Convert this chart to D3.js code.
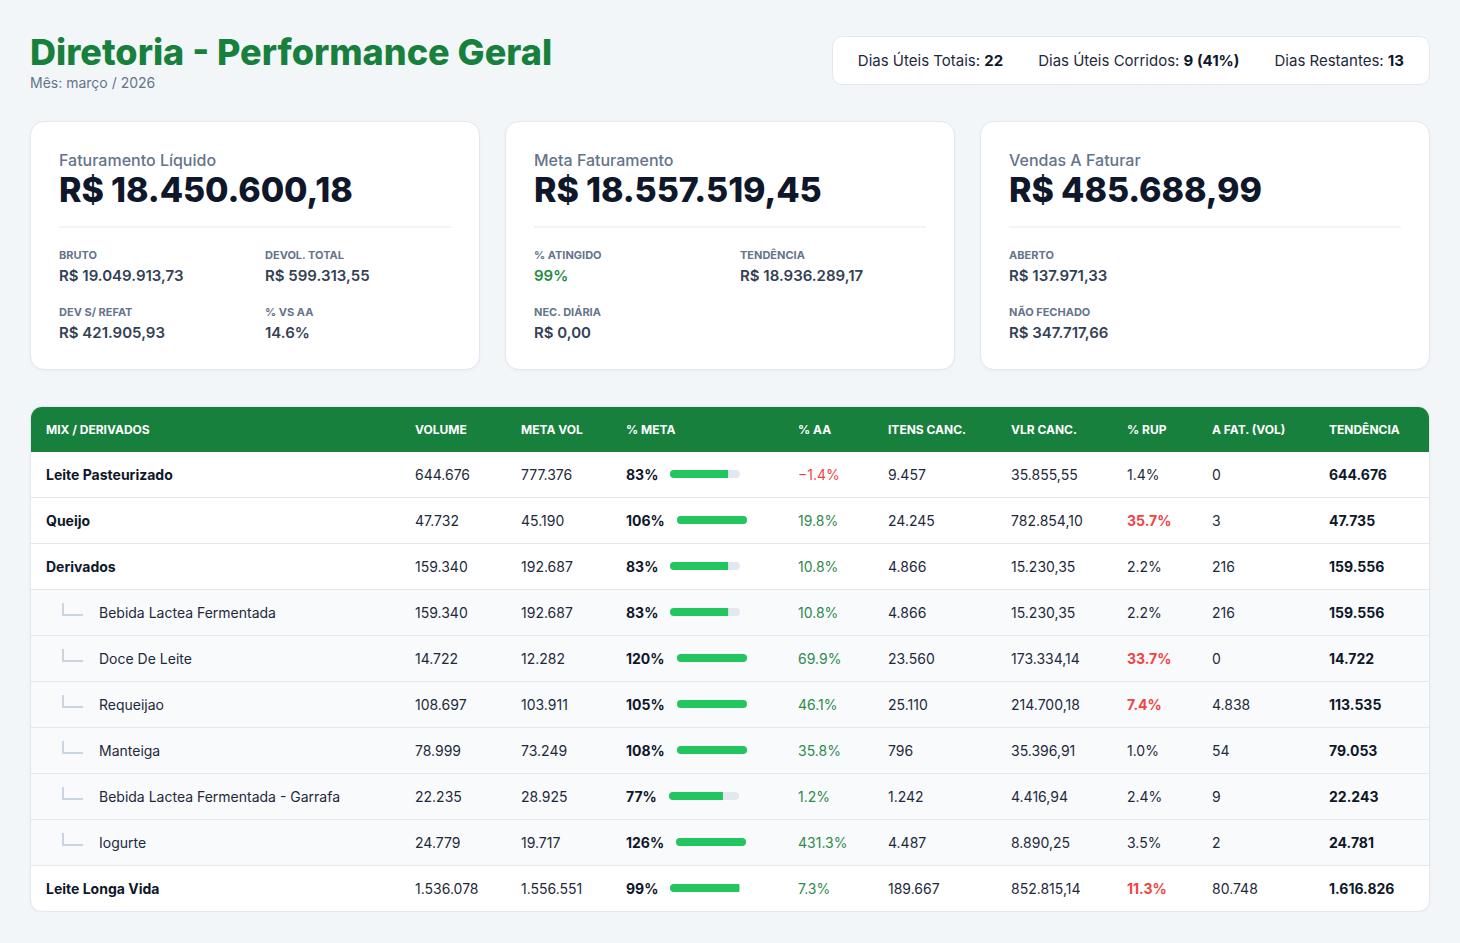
<!DOCTYPE html>
<html lang="pt-BR">
<head>
<meta charset="utf-8">
<title>Diretoria - Performance Geral</title>
<script src="https://cdn.jsdelivr.net/npm/d3@7"></script>
<style>
  body{margin:0;background:#f3f6f9;font-family:Inter,"Noto Sans",sans-serif;color:#1e293b;}
  #page{padding:31px 30px 0 30px;width:1400px;}
  .top{display:flex;justify-content:space-between;align-items:center;}
  .title{font-size:36px;font-weight:800;color:#17803d;line-height:43px;}
  .sub{font-size:14px;color:#64748b;margin-top:0px;line-height:17px;}
  .info{background:#fff;border:1px solid #e2e8f0;border-radius:10px;padding:14px 25px 14px 25px;display:flex;gap:35px;font-size:15px;color:#1e293b;height:19px;line-height:19px;transform:translateY(-1px);}
  .info b{font-weight:700;color:#0f172a;}
  .cards{display:flex;gap:25px;margin-top:30px;}
  .card{flex:1;background:#fff;border:1px solid #e2e8f0;border-radius:14px;padding:28px 28px 0 28px;height:219px;box-shadow:0 1px 3px rgba(15,23,42,0.04);}
  .card .lbl{font-size:16px;font-weight:500;color:#64748b;line-height:20px;}
  .card .big{font-size:34px;font-weight:800;color:#0f172a;line-height:40px;letter-spacing:-0.1px;}
  .card .div{height:2px;background:#f1f5f9;margin:16px 0 20px 0;}
  .card .grid{display:grid;grid-template-columns:1fr 1fr;column-gap:20px;row-gap:20px;}
  .card .k{font-size:11px;font-weight:700;color:#64748b;line-height:14px;text-transform:uppercase;}
  .card .v{font-size:15px;font-weight:600;color:#334155;line-height:19px;margin-top:4px;}
  .tbl{margin-top:36px;background:#fff;border:1px solid #e2e8f0;border-radius:12px;overflow:hidden;box-shadow:0 1px 3px rgba(15,23,42,0.04);}
  table{width:100%;border-collapse:collapse;table-layout:fixed;}
  th{background:#17803d;color:#fff;font-size:12px;font-weight:700;text-align:left;height:45px;padding:0 0 0 15px;box-sizing:border-box;white-space:nowrap;}
  td{font-size:14px;height:46px;padding:0 0 0 15px;box-sizing:border-box;border-top:1px solid #e2e8f0;white-space:nowrap;color:#1e293b;}
  tr.child td{background:#f8fafc;}
  tr:first-child td{border-top:none;height:45px;}
  .nm0{font-weight:700;color:#0f172a;}
  .conn{display:inline-block;width:19px;height:11px;border-left:2px solid #cbd5e1;border-bottom:2px solid #cbd5e1;margin:0 16px 0 16px;transform:translateY(-3px);}
  .nmcell{display:flex;align-items:center;}
  .meta{display:flex;align-items:center;gap:12px;font-weight:700;color:#0f172a;}
  .meta svg{display:block;}
  .bold{font-weight:700;color:#0f172a;}
</style>
</head>
<body>
<div id="page"></div>
<script>
// ---- dados do painel ----
const tituloPainel = "Diretoria - Performance Geral";
const mesRef = "Mês: março / 2026";
const diasUteisTotais = 22;
const diasUteisCorridos = 9;
const pctDiasCorridos = 41;
const diasRestantes = 13;

const kpiTitulos = ["Faturamento Líquido", "Meta Faturamento", "Vendas A Faturar"];
const kpiValores = [18450600.18, 18557519.45, 485688.99];
// linhas de detalhes de cada card: [rotulo, valor, tipo]
const kpiDetalhes = [
  [[["BRUTO", 19049913.73, "brl"], ["DEVOL. TOTAL", 599313.55, "brl"]],
   [["DEV S/ REFAT", 421905.93, "brl"], ["% VS AA", 14.6, "pct1"]]],
  [[["% ATINGIDO", 99, "pct0g"], ["TENDÊNCIA", 18936289.17, "brl"]],
   [["NEC. DIÁRIA", 0, "brl"]]],
  [[["ABERTO", 137971.33, "brl"]],
   [["NÃO FECHADO", 347717.66, "brl"]]]
];

// ---- tabela mix / derivados ----
const colunas = ["MIX / DERIVADOS", "VOLUME", "META VOL", "% META", "% AA", "ITENS CANC.", "VLR CANC.", "% RUP", "A FAT. (VOL)", "TENDÊNCIA"];
const larguras = [369, 106, 105, 172, 90, 123, 116, 85, 117, null];
const produtos = ["Leite Pasteurizado", "Queijo", "Derivados", "Bebida Lactea Fermentada", "Doce De Leite", "Requeijao", "Manteiga", "Bebida Lactea Fermentada - Garrafa", "Iogurte", "Leite Longa Vida"];
const nivel = [0, 0, 0, 1, 1, 1, 1, 1, 1, 0];
const volume = [644676, 47732, 159340, 159340, 14722, 108697, 78999, 22235, 24779, 1536078];
const metaVol = [777376, 45190, 192687, 192687, 12282, 103911, 73249, 28925, 19717, 1556551];
const pctMeta = [83, 106, 83, 83, 120, 105, 108, 77, 126, 99];
const pctAA = [-1.4, 19.8, 10.8, 10.8, 69.9, 46.1, 35.8, 1.2, 431.3, 7.3];
const itensCanc = [9457, 24245, 4866, 4866, 23560, 25110, 796, 1242, 4487, 189667];
const vlrCanc = [35855.55, 782854.10, 15230.35, 15230.35, 173334.14, 214700.18, 35396.91, 4416.94, 8890.25, 852815.14];
const pctRup = [1.4, 35.7, 2.2, 2.2, 33.7, 7.4, 1.0, 2.4, 3.5, 11.3];
const aFatVol = [0, 3, 216, 216, 0, 4838, 54, 9, 2, 80748];
const tendencia = [644676, 47735, 159556, 159556, 14722, 113535, 79053, 22243, 24781, 1616826];

// ---- formatos ----
const br = d3.formatLocale({decimal: ",", thousands: ".", grouping: [3], currency: ["R$ ", ""]});
const fBRL = br.format("$,.2f");
const fInt = br.format(",d");
const fDec = br.format(",.2f");
const fPct1 = v => d3.format(".1f")(v) + "%";
const fPct0 = v => d3.format("d")(v) + "%";

const page = d3.select("#page");

// cabeçalho
const header = page.append("div").attr("class", "top");
const tb = header.append("div");
tb.append("div").attr("class", "title").text(tituloPainel);
tb.append("div").attr("class", "sub").text(mesRef);

const info = header.append("div").attr("class", "info");
[["Dias Úteis Totais: ", diasUteisTotais],
 ["Dias Úteis Corridos: ", diasUteisCorridos + " (" + pctDiasCorridos + "%)"],
 ["Dias Restantes: ", diasRestantes]].forEach(d => {
  const s = info.append("span");
  s.append("span").text(d[0]);
  s.append("b").text(d[1]);
});

// cards
const cards = page.append("div").attr("class", "cards")
  .selectAll("div.card").data(kpiTitulos).join("div").attr("class", "card");
cards.append("div").attr("class", "lbl").text(d => d);
cards.append("div").attr("class", "big").text((d, i) => fBRL(kpiValores[i]));
cards.append("div").attr("class", "div");
cards.each(function(d, i) {
  const grid = d3.select(this).append("div").attr("class", "grid");
  kpiDetalhes[i].forEach(linha => {
    for (let c = 0; c < 2; c++) {
      const cell = grid.append("div");
      const it = linha[c];
      if (!it) continue;
      cell.append("div").attr("class", "k").text(it[0]);
      const v = cell.append("div").attr("class", "v");
      if (it[2] === "brl") v.text(fBRL(it[1]));
      else if (it[2] === "pct1") v.text(fPct1(it[1]));
      else v.text(fPct0(it[1])).style("color", "#1f8a45");
    }
  });
});

// tabela
const barra = d3.scaleLinear().domain([0, 100]).range([0, 70]).clamp(true);
const tblWrap = page.append("div").attr("class", "tbl");
const table = tblWrap.append("table");
table.append("colgroup").selectAll("col").data(larguras).join("col")
  .attr("style", d => d ? "width:" + d + "px" : null);
table.append("thead").append("tr").selectAll("th").data(colunas).join("th").text(d => d);

const rows = table.append("tbody").selectAll("tr").data(produtos).join("tr")
  .attr("class", (d, i) => nivel[i] ? "child" : "parent");

rows.each(function(nome, i) {
  const tr = d3.select(this);
  // nome
  const c0 = tr.append("td").append("div").attr("class", "nmcell");
  if (nivel[i]) {
    c0.append("span").attr("class", "conn");
    c0.append("span").text(nome);
  } else {
    c0.append("span").attr("class", "nm0").text(nome);
  }
  tr.append("td").text(fInt(volume[i]));
  tr.append("td").text(fInt(metaVol[i]));
  // % meta com barra
  const m = tr.append("td").append("div").attr("class", "meta");
  m.append("span").text(fPct0(pctMeta[i]));
  const svg = m.append("svg").attr("width", 70).attr("height", 8);
  svg.append("rect").attr("width", barra.range()[1]).attr("height", 8).attr("rx", 4).attr("fill", "#e2e8f0");
  svg.append("rect").attr("width", barra(pctMeta[i])).attr("height", 8).attr("rx", 4).attr("fill", "#22c55e");
  if (pctMeta[i] < 100) {
    svg.append("rect").attr("x", barra(pctMeta[i]) - 4).attr("width", 4).attr("height", 8).attr("fill", "#22c55e");
  }
  tr.append("td").text(fPct1(pctAA[i])).style("color", pctAA[i] < 0 ? "#ef4444" : "#2f8a4c");
  tr.append("td").text(fInt(itensCanc[i]));
  tr.append("td").text(fDec(vlrCanc[i]));
  tr.append("td").text(fPct1(pctRup[i]))
    .style("color", pctRup[i] > 5 ? "#ef4444" : null)
    .style("font-weight", pctRup[i] > 5 ? 700 : null);
  tr.append("td").text(fInt(aFatVol[i]));
  tr.append("td").attr("class", "bold").text(fInt(tendencia[i]));
});
</script>
</body>
</html>
